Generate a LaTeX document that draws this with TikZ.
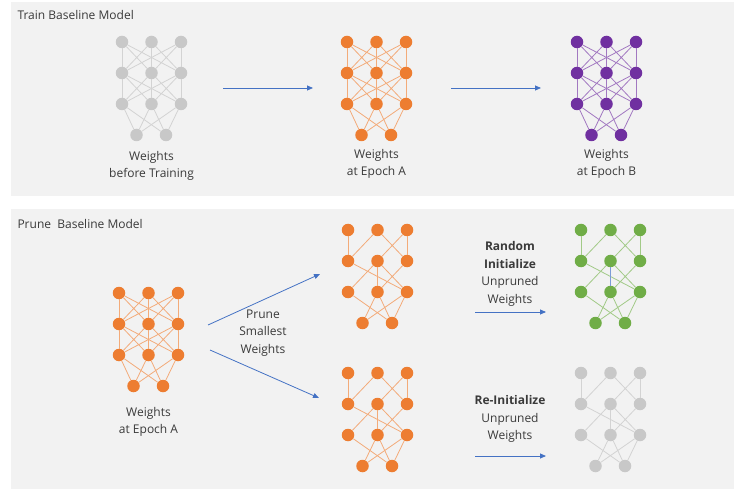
\documentclass[tikz,border=0pt]{standalone}
\usepackage{fontspec}
\setmainfont{Open Sans}
\usepackage{tikz}
\usetikzlibrary{arrows.meta}

\definecolor{panelgray}{HTML}{F2F2F2}
\definecolor{unitgray}{HTML}{C8C8C8}
\definecolor{unitorange}{HTML}{ED7D31}
\definecolor{unitpurple}{HTML}{7030A0}
\definecolor{unitgreen}{HTML}{70AD47}
\definecolor{arrowblue}{HTML}{4472C4}
\definecolor{textgray}{HTML}{3A3A3A}

\tikzset{
  unit/.style={circle, inner sep=0pt, minimum size=12.5bp, draw=none},
  link/.style={line width=0.8bp},
  flow/.style={arrowblue, line width=0.8bp, -{Triangle[length=6bp,width=5bp]}},
  panel/.style={fill=panelgray, draw=none},
  caption/.style={align=center, text=textgray, font=\fontsize{12bp}{17.5bp}\selectfont},
  title/.style={anchor=west, text=textgray, font=\fontsize{12bp}{17bp}\selectfont}
}

% 11 units of one net: rows a,b,c of three, row d of two
\newcommand{\netunits}[4]{%
  \foreach \row/\ly in {a/0,b/1,c/2}
    \foreach \k in {1,2,3}
      \node[unit, fill=#4] (#1\row\k) at ({#2+(\k-1)*29.5},{#3+\ly*31}) {};
  \node[unit, fill=#4] (#1d1) at ({#2+14.5},{#3+93}) {};
  \node[unit, fill=#4] (#1d2) at ({#2+44},{#3+93}) {};
}
% every weight of the net
\newcommand{\fulllinks}[2]{%
  \foreach \i in {1,2,3}{
    \foreach \j in {1,2,3}{
      \draw[link, #2] (#1a\i) -- (#1b\j);
      \draw[link, #2] (#1b\i) -- (#1c\j);
    }
    \draw[link, #2] (#1c\i) -- (#1d1);
    \draw[link, #2] (#1c\i) -- (#1d2);
  }
}
% weights left after pruning
\newcommand{\prunedlinks}[2]{%
  \foreach \p/\q in {a1/b1,a2/b1,a2/b3,a3/b2,a3/b3,b1/c3,b2/c1,b2/c2,b2/c3,b3/c2,c1/d2,c2/d1,c2/d2,c3/d1,c3/d2}
    \draw[link, #2] (#1\p) -- (#1\q);
}

\begin{document}
\begin{tikzpicture}[x=1bp, y=-1bp]
\useasboundingbox (0,0) rectangle (734,489);
\fill[white] (0,0) rectangle (734,489);
\fill[panel] (11,2) rectangle (734,196);
\fill[panel] (11,209) rectangle (734,489);

\node[title] (train) at (14,15) {Train Baseline Model};
\node[title] (prune) at (14,224) {Prune~ Baseline Model};

% train row
\netunits{init}{122}{42}{unitgray}
\fulllinks{init}{unitgray!80}
\netunits{epa}{347}{42}{unitorange}
\fulllinks{epa}{unitorange!65}
\netunits{epb}{577}{42}{unitpurple}
\fulllinks{epb}{unitpurple!65}

\node[caption] (initlabel) at (151.5,166) {Weights\\before Training};
\node[caption] (epalabel) at (376.5,164) {Weights\\at Epoch A};
\node[caption] (epblabel) at (606.5,164) {Weights\\at Epoch B};

\coordinate (t1s) at (223,88);
\coordinate (t1e) at (313,88);
\coordinate (t2s) at (451,88);
\coordinate (t2e) at (541,88);
\draw[flow] (t1s) -- (t1e);
\draw[flow] (t2s) -- (t2e);

% prune row
\netunits{base}{119}{293}{unitorange}
\fulllinks{base}{unitorange!65}
\node[caption] (baselabel) at (148.5,422) {Weights\\at Epoch A};

\netunits{prA}{348}{230}{unitorange}
\prunedlinks{prA}{unitorange!65}
\netunits{prB}{348}{373}{unitorange}
\prunedlinks{prB}{unitorange!65}

\netunits{rnd}{581}{230}{unitgreen}
\prunedlinks{rnd}{unitgreen!65}
\draw[link, arrowblue!70] (rndb2) -- (rndc2);
\netunits{reinit}{581}{373}{unitgray}
\prunedlinks{reinit}{unitgray!80}

\coordinate (p1s) at (208,325);
\coordinate (p1e) at (320,274);
\coordinate (p2s) at (210,350);
\coordinate (p2e) at (319,398);
\draw[flow] (p1s) -- (p1e);
\draw[flow] (p2s) -- (p2e);
\node[caption] (prunelabel) at (263,333) {Prune\\Smallest\\Weights};

\coordinate (r1s) at (475,312);
\coordinate (r1e) at (546,312);
\coordinate (r2s) at (475,456);
\coordinate (r2e) at (546,456);
\draw[flow] (r1s) -- (r1e);
\draw[flow] (r2s) -- (r2e);
\node[caption] (rndlabel) at (510,274) {\textbf{Random}\\\textbf{Initialize}\\Unpruned\\Weights};
\node[caption] (reinitlabel) at (510,419) {\textbf{Re-Initialize}\\Unpruned\\Weights};

\end{tikzpicture}
\end{document}
